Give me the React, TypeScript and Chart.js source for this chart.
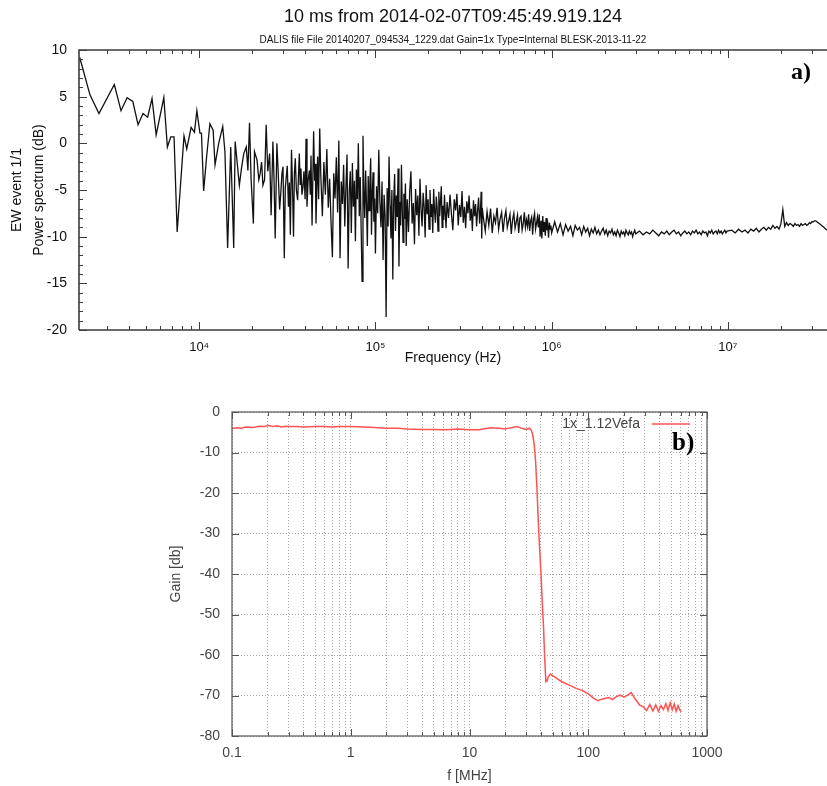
import React, { useEffect, useRef } from 'react';
import { Chart, registerables } from 'chart.js';

Chart.register(...registerables);

// ---------------- Panel a) : power spectrum ----------------
const titleA = '10 ms from 2014-02-07T09:45:49.919.124';
const subtitleA = 'DALIS file File 20140207_094534_1229.dat Gain=1x Type=Internal BLESK-2013-11-22';
const yTitleA = ['EW event 1/1', 'Power spectrum (dB)'];
const xTitleA = 'Frequency (Hz)';
const xTickLabelsA = ['10⁴', '10⁵', '10⁶', '10⁷'];
const panelLabelA = 'a)';

// frequencies in kHz, power in dB
const lowKHz = [2.1, 2.4, 2.7, 3.3, 3.6, 3.9, 4.2, 4.5, 4.8, 5.1,
  5.4, 5.7, 6.3, 6.6, 6.9, 7.2, 7.5, 8.2, 8.5, 9.0,
  9.4, 9.7];
const lowDb = [9.2, 5.2, 3.2, 6.3, 3.5, 4.9, 4.5, 2.0, 3.2, 2.8,
  4.8, 0.9, 4.9, -0.4, 0.7, 0.7, -9.5, 0.8, -0.6, 1.7,
  1.2, 3.5];

const midKHz = [10.1, 10.3, 10.6, 11.0, 11.5, 12.0, 12.3, 12.9, 13.6, 14.0,
  14.5, 15.1, 15.7, 16.0, 16.9, 17.4, 17.9, 18.5, 18.9, 19.3,
  19.7, 20.3, 20.6, 21.3, 21.8, 22.2, 22.6, 23.0, 23.5, 24.0,
  24.5, 25.1, 25.6, 26.2, 26.6, 27.0, 27.6, 28.1, 28.6, 29.0,
  29.5, 29.9, 30.4, 30.8, 31.2, 31.6, 32.1, 32.5, 32.9, 33.4,
  33.8, 34.3, 34.7, 35.1, 35.6, 36.2, 36.6, 37.0, 37.4, 37.8,
  38.3, 38.8, 39.3, 39.9, 40.4, 40.9, 41.5, 42.2, 42.7, 43.1,
  43.7, 44.6, 45.2, 45.6, 46.0, 46.5, 47.0, 47.6, 48.3];
const midDb = [1.1, 1.1, -5.1, -1.6, 2.1, 1.4, -2.3, 0.0, 1.8, -0.9,
  -11.2, -0.4, -11.2, 0.2, -4.5, -2.6, -1.1, -0.4, -2.9, 2.2,
  -3.8, -8.6, -0.9, -1.8, -3.9, -3.2, -2.0, -4.5, -3.9, 2.0,
  -3.0, -1.1, -7.7, 0.2, -4.0, -10.2, 0.0, -3.3, -7.1, -5.5,
  -3.2, -2.5, -12.3, -4.8, -3.6, -2.4, -6.8, -4.2, -9.8, -0.7,
  -4.1, -10.0, -3.2, -1.6, -5.0, -6.1, -3.4, -1.1, -4.4, -2.7,
  -5.5, -4.7, -3.0, -6.0, 0.5, -6.8, -4.0, -2.9, -5.5, -1.3,
  -8.8, 1.3, -4.0, -2.2, -8.6, -4.8, -1.4, -6.0, 1.6];

const denseKHz = [49, 50, 51, 52, 53, 54, 55, 56, 57, 58,
  59, 60, 61, 62, 63, 64, 65, 66, 67, 68,
  69, 70, 71, 72, 73, 74, 75, 76, 77, 78,
  79, 80, 81, 82, 83, 84, 85, 86, 87, 88,
  89, 90, 91, 92, 93, 94, 95, 96, 97, 98,
  99, 100];
const denseDb = [-3.5, -7.8, -2.0, -5.5, -0.6, -6.9, -3.8, -8.5, -12.2, -3.2,
  -5.9, -1.5, -7.4, 0.3, -12.3, -4.1, -6.5, -2.3, -8.9, -4.7,
  -1.2, -13.4, -5.2, -3.0, -9.6, -2.1, -6.8, -4.0, -10.5, -2.8,
  -6.0, 0.0, -7.8, -3.6, -9.2, -14.8, 0.8, -5.1, -8.0, -2.9,
  -6.6, -11.0, -3.5, -7.2, -4.4, -1.6, -9.8, -5.3, -3.1, -8.4,
  -5.9, -11.8];

const dense2KHz = [101.5, 103, 104.5, 106, 107.5, 109, 110.5, 112, 113.5, 115,
  116.5, 118, 119.5, 121, 122.5, 124, 125.5, 127, 128.5, 130,
  131.5, 133, 134.5, 136, 137.5, 139, 140.5, 142, 143.5, 145,
  146.5, 148, 149.5];
const dense2Db = [-4.6, -7.5, -0.7, -6.2, -9.0, -4.1, -12.5, -5.5, -7.8, -18.6,
  -4.8, -8.9, -1.4, -6.7, -10.2, -5.0, -14.6, -6.1, -3.3, -9.4,
  -5.6, -7.9, -2.7, -13.2, -6.3, -8.8, -2.3, -7.0, -10.6, -5.4,
  -8.1, -4.3, -11.0];

const bandKHz = [151.5, 154, 156.5, 159, 161.5, 164, 166.5, 169, 171.5, 174,
  176.5, 179, 181.5, 184, 186.5, 189, 191.5, 194, 196.5, 199,
  201.5, 204, 206.5, 209, 211.5, 214, 216.5, 219, 221.5, 224,
  226.5, 229, 231.5, 234, 236.5, 239, 241.5, 244, 246.5, 249,
  251.5];
const bandDb = [-6.0, -9.5, -5.2, -3.0, -8.6, -6.4, -10.8, -4.9, -7.7, -5.6,
  -9.9, -3.8, -7.1, -8.9, -5.3, -6.8, -10.1, -4.5, -7.6, -6.0,
  -9.2, -5.0, -7.9, -6.5, -9.6, -4.9, -7.3, -8.5, -5.7, -6.9,
  -9.4, -5.2, -7.8, -6.2, -4.6, -9.0, -6.7, -8.2, -5.5, -7.4,
  -9.1];

const band2KHz = [255, 260, 265, 270, 275, 280, 285, 290, 295, 300,
  305, 310, 315, 320, 325, 330, 335, 340, 345, 350,
  355, 360, 365, 370, 375, 380, 385, 390, 395, 398,
  401, 404];
const band2Db = [-6.3, -8.0, -5.5, -7.6, -9.3, -6.0, -7.2, -5.4, -8.8, -6.6,
  -7.9, -5.1, -8.5, -6.8, -9.1, -6.2, -7.5, -5.6, -8.3, -7.0,
  -9.4, -6.1, -7.8, -6.5, -8.9, -7.2, -5.8, -8.6, -7.0, -5.2,
  -10.2, -6.9];

const tailKHz = [410, 420, 430, 440, 450, 460, 470, 480, 490, 500,
  510, 520, 530, 540, 550, 560, 570, 580, 590, 600,
  610, 620, 630, 640, 650, 660, 670, 680, 690, 700,
  710, 720, 730, 740, 750, 760, 770, 780, 790, 800,
  810, 820, 830, 840, 850, 860, 870, 880, 890, 900,
  910, 920, 930, 940, 950, 960, 970, 980, 990, 1000];
const tailDb = [-8.0, -9.4, -7.3, -8.8, -7.0, -9.6, -7.8, -8.5, -6.9, -9.2,
  -8.1, -7.4, -9.5, -8.0, -7.2, -9.0, -8.3, -7.6, -9.7, -8.2,
  -7.5, -9.1, -8.4, -7.7, -9.6, -8.0, -7.8, -9.3, -8.6, -7.4,
  -9.0, -8.2, -8.9, -7.6, -9.4, -8.3, -7.9, -9.8, -8.1, -7.5,
  -9.2, -8.6, -7.9, -9.0, -7.6, -10.0, -8.3, -10.2, -7.8, -9.5,
  -8.4, -9.9, -8.0, -9.3, -8.7, -10.1, -8.5, -9.2, -8.8, -9.6];

const mhzKHz = [1040, 1080, 1120, 1160, 1200, 1240, 1280, 1320, 1360, 1400,
  1440, 1480, 1520, 1560, 1600, 1640, 1680, 1720, 1760, 1800,
  1840, 1880, 1920, 1960, 2000, 2040, 2080, 2120, 2160, 2200,
  2240, 2280, 2320, 2360, 2400, 2440, 2480, 2520, 2560, 2600,
  2640, 2680, 2720, 2760, 2800, 2840, 2880, 2920, 2960, 3000];
const mhzDb = [-8.4, -9.5, -8.6, -9.8, -8.7, -9.4, -8.9, -9.9, -8.8, -9.3,
  -9.0, -9.8, -8.9, -9.5, -9.1, -9.9, -9.2, -9.6, -9.0, -9.7,
  -9.3, -9.8, -9.4, -9.1, -9.7, -9.3, -9.9, -9.4, -9.6, -9.2,
  -9.8, -9.5, -9.9, -9.3, -9.6, -10.0, -9.4, -9.7, -9.5, -9.9,
  -9.3, -9.6, -9.8, -9.4, -9.7, -9.5, -10.0, -9.6, -9.3, -9.7];

const flatKHz = [3150, 3300, 3450, 3600, 3750, 3900, 4050, 4200, 4350, 4500,
  4650, 4800, 4950, 5100, 5250, 5400, 5550, 5700, 5850, 6000,
  6150, 6300, 6450, 6600, 6750, 6900, 7050, 7200, 7350, 7500,
  7650, 7800, 7950, 8100, 8250, 8400, 8550, 8700, 8850, 9000,
  9150, 9300, 9450, 9600, 9750, 9900];
const flatDb = [-9.4, -9.8, -9.5, -9.7, -9.3, -9.6, -9.9, -9.5, -9.7, -9.4,
  -9.8, -9.5, -9.3, -9.7, -9.5, -9.9, -9.6, -9.4, -9.7, -9.5,
  -9.8, -9.4, -9.6, -9.3, -9.7, -9.5, -9.8, -9.4, -9.6, -9.5,
  -9.9, -9.4, -9.6, -9.3, -9.7, -9.5, -9.4, -9.7, -9.3, -9.6,
  -9.4, -9.7, -9.5, -9.3, -9.6, -9.4];

const topKHz = [10500, 11000, 11500, 12000, 12500, 13000, 13500, 14000, 14500, 15000,
  15500, 16000, 16500, 17000, 17500, 18000, 18500, 19000, 19500, 20000,
  20500, 21000, 21500, 22000, 22500, 23000, 23500, 24000, 24500, 25000,
  25500, 26000, 26500, 27000, 27500, 28000, 28500, 29000, 29500, 30000,
  30500, 31000, 31500, 32000, 32500, 33000, 33500, 34000, 35000, 36000,
  36500];
const topDb = [-9.3, -9.6, -9.2, -9.5, -9.3, -9.6, -9.2, -9.4, -9.1, -9.5,
  -9.2, -9.0, -9.3, -9.0, -9.2, -8.8, -9.1, -8.9, -9.2, -8.6,
  -7.1, -8.9, -8.5, -8.8, -8.6, -8.7, -8.9, -8.6, -8.8, -8.7,
  -8.9, -8.6, -8.8, -8.7, -8.6, -8.8, -8.7, -8.5, -8.6, -8.4,
  -8.4, -8.3, -8.3, -8.4, -8.5, -8.6, -8.7, -8.8, -9.0, -9.2,
  -9.3];

// ---------------- Panel b) : gain ----------------
const yTitleB = 'Gain [db]';
const xTitleB = 'f [MHz]';
const xTickLabelsB = ['0.1', '1', '10', '100', '1000'];
const seriesNameB = '1x_1.12Vefa';
const panelLabelB = 'b)';

const gainFreqMHz = [0.1, 0.11, 0.12, 0.13, 0.15, 0.17, 0.19, 0.2, 0.22, 0.24,
  0.26, 0.28, 0.3, 0.35, 0.4, 0.5, 0.6, 0.7, 0.8, 1,
  1.3, 1.6, 2, 2.5, 3, 4, 5, 6, 7, 8,
  10, 12, 15, 18, 20, 23, 25, 28, 30, 32,
  33, 34, 35, 36, 37, 38, 39, 40, 41, 42,
  43, 44, 45, 46, 48, 50, 55, 60, 70, 80,
  90, 100, 110, 120, 130, 140, 150, 160, 170, 185,
  200, 215, 230, 250, 270, 290, 310, 330, 350, 370,
  390, 410, 430, 450, 470, 490, 510, 530, 550, 570,
  590, 610];
const gainDb = [-4.1, -3.9, -4.0, -3.7, -3.8, -3.5, -3.6, -3.3, -3.6, -3.4,
  -3.7, -3.5, -3.6, -3.6, -3.7, -3.6, -3.6, -3.7, -3.6, -3.6,
  -3.7, -3.8, -4.0, -4.0, -4.2, -4.3, -4.3, -4.4, -4.3, -4.2,
  -4.4, -4.4, -3.9, -4.0, -4.2, -3.8, -3.6, -4.1, -4.3, -4.0,
  -4.4, -5.5, -7.8, -12, -19, -27.5, -34, -40, -47, -53,
  -61, -66.6, -66.4, -65.4, -64.7, -65.1, -65.9, -66.6, -67.5, -68.3,
  -68.8, -69.6, -70.6, -71.3, -70.9, -70.7, -70.5, -71.0, -70.4, -69.9,
  -70.4, -69.9, -69.3, -71.0, -72.3, -72.8, -73.7, -72.2, -73.8, -72.3,
  -73.9, -72.5, -73.5, -72.0, -73.7, -71.8, -73.5, -72.1, -73.9, -72.5,
  -73.6, -74.0];

const SANS = '"Liberation Sans", Arial, Helvetica, sans-serif';
const SERIF = '"Liberation Serif", "Times New Roman", serif';

const X_MIN_A = 2080;
const X_MAX_A = 36500000;

function toPoints(fs: number[], vs: number[], k: number) {
  return fs.map((f, i) => ({ x: f * k, y: vs[i] }));
}

function logTicks(min: number, max: number) {
  const out: { value: number; major: boolean }[] = [];
  for (let e = Math.floor(Math.log10(min)); e <= Math.ceil(Math.log10(max)); e++) {
    for (let d = 1; d <= 9; d++) {
      const v = d * Math.pow(10, e);
      if (v >= min * 0.9999 && v <= max * 1.0001) out.push({ value: v, major: d === 1 });
    }
  }
  return out;
}

function linTicks(min: number, max: number, step: number, majorEvery: number) {
  const out: { value: number; major: boolean }[] = [];
  for (let v = min; v <= max + 1e-9; v += step) {
    out.push({ value: v, major: Math.abs(v % majorEvery) < 1e-9 });
  }
  return out;
}

const frameA = {
  id: 'frameA',
  afterDraw(chart: any) {
    const { ctx, chartArea: ca, scales } = chart;
    const xs = scales.x;
    const ys = scales.y;
    ctx.save();
    ctx.strokeStyle = '#3c3c3c';
    ctx.lineWidth = 1.6;
    ctx.beginPath();
    ctx.moveTo(ca.left, ca.bottom);
    ctx.lineTo(ca.left, ca.top);
    ctx.lineTo(ca.right, ca.top);
    ctx.moveTo(ca.left, ca.bottom);
    ctx.lineTo(ca.right, ca.bottom);
    ctx.stroke();
    ctx.lineWidth = 1;
    ctx.beginPath();
    for (const t of xs.ticks) {
      const px = Math.round(xs.getPixelForValue(t.value)) + 0.5;
      const len = t.major ? 8 : 4;
      ctx.moveTo(px, ca.bottom);
      ctx.lineTo(px, ca.bottom - len);
      ctx.moveTo(px, ca.top);
      ctx.lineTo(px, ca.top + len);
    }
    for (const t of ys.ticks) {
      const py = Math.round(ys.getPixelForValue(t.value)) + 0.5;
      const len = t.major ? 8 : 4;
      ctx.moveTo(ca.left, py);
      ctx.lineTo(ca.left + len, py);
    }
    ctx.stroke();
    ctx.fillStyle = '#000';
    ctx.font = 'bold 24px ' + SERIF;
    ctx.textAlign = 'right';
    ctx.textBaseline = 'alphabetic';
    ctx.fillText(panelLabelA, ca.right - 16, ca.top + 29);
    ctx.restore();
  },
};

const frameB = {
  id: 'frameB',
  afterDraw(chart: any) {
    const { ctx, chartArea: ca, scales } = chart;
    const xs = scales.x;
    const ys = scales.y;
    ctx.save();
    ctx.strokeStyle = '#555';
    ctx.lineWidth = 1.2;
    ctx.strokeRect(ca.left, ca.top, ca.right - ca.left, ca.bottom - ca.top);
    ctx.lineWidth = 1;
    ctx.beginPath();
    for (const t of xs.ticks) {
      const px = Math.round(xs.getPixelForValue(t.value)) + 0.5;
      const len = t.major ? 7 : 4;
      ctx.moveTo(px, ca.bottom);
      ctx.lineTo(px, ca.bottom - len);
      ctx.moveTo(px, ca.top);
      ctx.lineTo(px, ca.top + len);
    }
    for (const t of ys.ticks) {
      const py = Math.round(ys.getPixelForValue(t.value)) + 0.5;
      ctx.moveTo(ca.left, py);
      ctx.lineTo(ca.left + 7, py);
      ctx.moveTo(ca.right, py);
      ctx.lineTo(ca.right - 7, py);
    }
    ctx.stroke();
    // key
    const ky = ca.top + 12;
    ctx.fillStyle = '#444';
    ctx.font = '14px ' + SANS;
    ctx.textAlign = 'right';
    ctx.textBaseline = 'middle';
    ctx.fillText(seriesNameB, ca.right - 67, ky);
    ctx.strokeStyle = '#ff5252';
    ctx.lineWidth = 1.5;
    ctx.beginPath();
    ctx.moveTo(ca.right - 55, ky);
    ctx.lineTo(ca.right - 17, ky);
    ctx.stroke();
    ctx.fillStyle = '#000';
    ctx.font = 'bold 25px ' + SERIF;
    ctx.textAlign = 'left';
    ctx.textBaseline = 'alphabetic';
    ctx.fillText(panelLabelB, ca.right - 35, ca.top + 38);
    ctx.restore();
  },
};

export default function App() {
  const refA = useRef<HTMLCanvasElement | null>(null);
  const refB = useRef<HTMLCanvasElement | null>(null);

  useEffect(() => {
    Chart.defaults.font.family = SANS;

    const spectrum = [
      ...toPoints(lowKHz, lowDb, 1000),
      ...toPoints(midKHz, midDb, 1000),
      ...toPoints(denseKHz, denseDb, 1000),
      ...toPoints(dense2KHz, dense2Db, 1000),
      ...toPoints(bandKHz, bandDb, 1000),
      ...toPoints(band2KHz, band2Db, 1000),
      ...toPoints(tailKHz, tailDb, 1000),
      ...toPoints(mhzKHz, mhzDb, 1000),
      ...toPoints(flatKHz, flatDb, 1000),
      ...toPoints(topKHz, topDb, 1000),
    ];

    const chartA = new Chart(refA.current as HTMLCanvasElement, {
      type: 'line',
      data: {
        datasets: [
          {
            data: spectrum,
            borderColor: '#111',
            borderWidth: 1.3,
            pointRadius: 0,
            tension: 0,
            fill: false,
          },
        ],
      },
      options: {
        responsive: false,
        animation: false,
        events: [],
        layout: { padding: { left: 0, right: 0, top: 0, bottom: 0 } },
        plugins: {
          legend: { display: false },
          tooltip: { enabled: false },
          title: {
            display: true,
            text: titleA,
            fullSize: false,
            color: '#111',
            font: { size: 18, weight: 'normal', family: SANS },
            padding: { top: 6, bottom: 2 },
          },
          subtitle: {
            display: true,
            text: subtitleA,
            fullSize: false,
            color: '#111',
            font: { size: 10, family: SANS },
            padding: { top: 4.4, bottom: 4 },
          },
        },
        scales: {
          x: {
            type: 'logarithmic',
            min: X_MIN_A,
            max: X_MAX_A,
            afterBuildTicks: (s: any) => {
              s.ticks = logTicks(X_MIN_A, X_MAX_A);
            },
            afterFit: (s: any) => {
              s.height = 42;
            },
            grid: { display: false },
            border: { display: false },
            ticks: {
              autoSkip: false,
              maxRotation: 0,
              padding: 2,
              color: '#111',
              font: { size: 13 },
              callback: (v: any, i: number, ticks: any[]) =>
                ticks[i].major ? xTickLabelsA[Math.round(Math.log10(Number(v))) - 4] ?? '' : '',
            },
            title: {
              display: true,
              text: xTitleA,
              color: '#111',
              font: { size: 14 },
              padding: { top: 0, bottom: 5.6 },
            },
          },
          y: {
            type: 'linear',
            min: -20,
            max: 10,
            afterBuildTicks: (s: any) => {
              s.ticks = linTicks(-20, 10, 1, 5);
            },
            afterFit: (s: any) => {
              s.width = 79;
            },
            grid: { display: false },
            border: { display: false },
            ticks: {
              autoSkip: false,
              padding: 4,
              color: '#111',
              font: { size: 14 },
              callback: (v: any, i: number, ticks: any[]) => (ticks[i].major ? String(v) : ''),
            },
            title: {
              display: true,
              text: yTitleA,
              color: '#111',
              font: { size: 14, lineHeight: 1.57 },
              padding: { top: 6, bottom: 0 },
            },
          },
        },
      },
      plugins: [frameA],
    } as any);

    const chartB = new Chart(refB.current as HTMLCanvasElement, {
      type: 'line',
      data: {
        datasets: [
          {
            label: seriesNameB,
            data: toPoints(gainFreqMHz, gainDb, 1),
            borderColor: '#ff5252',
            borderWidth: 1.5,
            pointRadius: 0,
            tension: 0,
            fill: false,
          },
        ],
      },
      options: {
        responsive: false,
        animation: false,
        events: [],
        layout: { padding: { left: 150, right: 120, top: 22, bottom: 0 } },
        plugins: {
          legend: { display: false },
          tooltip: { enabled: false },
        },
        scales: {
          x: {
            type: 'logarithmic',
            min: 0.1,
            max: 1000,
            afterBuildTicks: (s: any) => {
              s.ticks = logTicks(0.1, 1000);
            },
            afterFit: (s: any) => {
              s.height = 50;
            },
            grid: { display: true, color: '#a8a8a8', lineWidth: 1, drawTicks: false },
            border: { display: false, dash: [1, 2] },
            ticks: {
              autoSkip: false,
              maxRotation: 0,
              padding: 8.4,
              color: '#444',
              font: { size: 14 },
              callback: (v: any, i: number, ticks: any[]) =>
                ticks[i].major ? xTickLabelsB[Math.round(Math.log10(Number(v))) + 1] ?? '' : '',
            },
            title: {
              display: true,
              text: xTitleB,
              color: '#444',
              font: { size: 14 },
              padding: { top: 0, bottom: 1 },
            },
          },
          y: {
            type: 'linear',
            min: -80,
            max: 0,
            afterBuildTicks: (s: any) => {
              s.ticks = linTicks(-80, 0, 10, 10);
            },
            afterFit: (s: any) => {
              s.width = 82;
            },
            grid: { display: true, color: '#a8a8a8', lineWidth: 1, drawTicks: false },
            border: { display: false, dash: [1, 2] },
            ticks: {
              autoSkip: false,
              padding: 12,
              color: '#444',
              font: { size: 14 },
              callback: (v: any) => String(v),
            },
            title: {
              display: true,
              text: yTitleB,
              color: '#444',
              font: { size: 14 },
              padding: { top: 17.6, bottom: 0 },
            },
          },
        },
      },
      plugins: [frameB],
    } as any);

    return () => {
      chartA.destroy();
      chartB.destroy();
    };
  }, []);

  return (
    <div
      style={{
        position: 'absolute',
        left: 0,
        top: 0,
        width: 827,
        height: 786,
        background: '#fff',
        overflow: 'hidden',
      }}
    >
      <canvas
        ref={refA}
        width={827}
        height={372}
        style={{ position: 'absolute', left: 0, top: 0, width: 827, height: 372 }}
      />
      <canvas
        ref={refB}
        width={827}
        height={396}
        style={{ position: 'absolute', left: 0, top: 390, width: 827, height: 396 }}
      />
    </div>
  );
}
